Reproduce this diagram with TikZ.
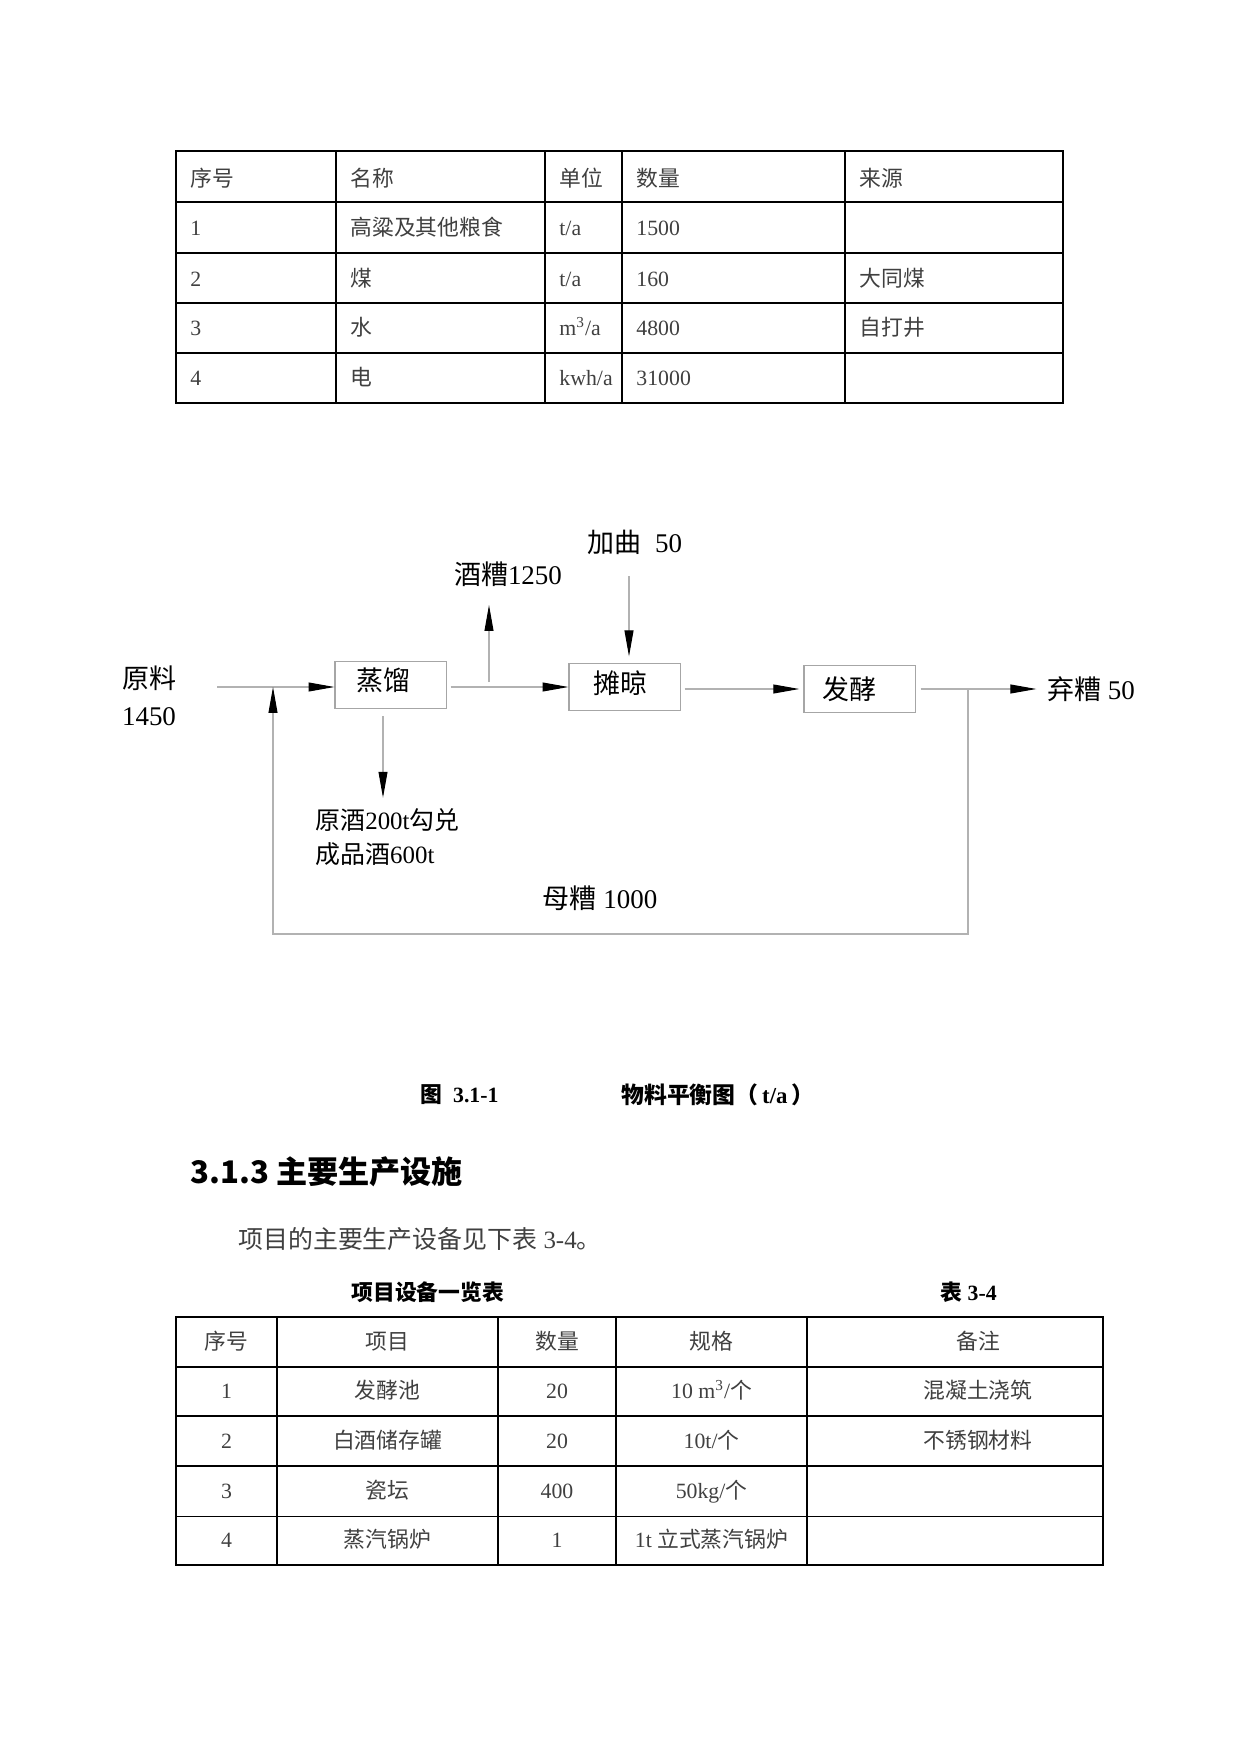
\documentclass[tikz,border=0pt]{standalone}
\usepackage{fontspec}
\setmainfont{Liberation Serif}
\newfontfamily\zhfont{Noto Sans CJK SC}
\newcommand{\zh}[1]{{\zhfont #1}}
\usepackage{tikz}
\usetikzlibrary{arrows.meta, positioning, calc}

\tikzset{
  proc/.style={draw=gray!70, line width=0.5pt, minimum width=53.5pt, minimum height=23pt, inner sep=0pt, font=\fontsize{13}{15}\selectfont},
  lbl/.style={font=\fontsize{13}{17.8}\selectfont, inner sep=1pt},
  flow/.style={draw=gray!60, line width=0.5pt, -{Triangle[length=12.5pt, width=4.3pt, color=black]}},
  cell/.style={font=\fontsize{10.5}{12}\selectfont, text=black!75, inner sep=0pt, text height=8pt, text depth=2pt},
  tabframe/.style={line width=1.2pt},
  tabline/.style={line width=0.5pt}
}

\begin{document}
\begin{tikzpicture}[x=0.4818pt, y=-0.4818pt]
\fill[white] (0,0) rectangle (1241,1754);
\useasboundingbox (0,0) rectangle (1241,1754);

% table of raw materials
\draw[tabline] (336,151) -- (336,403) (545,151) -- (545,403) (622,151) -- (622,403) (845,151) -- (845,403);
\draw[tabline] (176,202) -- (1063,202) (176,253) -- (1063,253) (176,353) -- (1063,353);
\draw[line width=0.9pt] (176,303) -- (1063,303);
\draw[tabframe] (176,151) rectangle (1063,403);

\node[cell, anchor=west] (a1) at (190,180) {\zh{序号}};
\node[cell, anchor=west] (a2) at (350,180) {\zh{名称}};
\node[cell, anchor=west] (a3) at (559,180) {\zh{单位}};
\node[cell, anchor=west] (a4) at (636,180) {\zh{数量}};
\node[cell, anchor=west] (a5) at (859,180) {\zh{来源}};
\node[cell, anchor=west] (b1) at (190,229.5) {1};
\node[cell, anchor=west] (b2) at (350,229.5) {\zh{高粱及其他粮食}};
\node[cell, anchor=west] (b3) at (559,229.5) {t/a};
\node[cell, anchor=west] (b4) at (636,229.5) {1500};
\node[cell, anchor=west] (c1) at (190,280) {2};
\node[cell, anchor=west] (c2) at (350,280) {\zh{煤}};
\node[cell, anchor=west] (c3) at (559,280) {t/a};
\node[cell, anchor=west] (c4) at (636,280) {160};
\node[cell, anchor=west] (c5) at (859,280) {\zh{大同煤}};
\node[cell, anchor=west] (d1) at (190,329.5) {3};
\node[cell, anchor=west] (d2) at (350,329.5) {\zh{水}};
\node[cell, anchor=west] (d3) at (559,329.5) {m\textsuperscript{3}/a};
\node[cell, anchor=west] (d4) at (636,329.5) {4800};
\node[cell, anchor=west] (d5) at (859,329.5) {\zh{自打井}};
\node[cell, anchor=west] (e1) at (190,379.5) {4};
\node[cell, anchor=west] (e2) at (350,379.5) {\zh{电}};
\node[cell, anchor=west] (e3) at (559,379.5) {kwh/a};
\node[cell, anchor=west] (e4) at (636,379.5) {31000};

% material balance
\node[lbl, align=center] (yl) at (149,696) {\zh{原料}\\1450};
\node[proc] (zl) at (390.5,685) {\raisebox{6pt}{\zh{蒸馏}}\kern7pt};
\node[proc] (tl) at (624.5,687) {\raisebox{5pt}{\zh{摊晾}}\kern3.5pt};
\node[proc] (fj) at (859.5,689) {\zh{发酵}\kern10pt};
\node[lbl] (jz) at (508,574) {\zh{酒糟}1250};
\node[lbl] (jq) at (635,542) {\zh{加曲}\ \ 50};
\node[lbl] (qz) at (1091,689) {\zh{弃糟} 50};
\node[lbl] (mz) at (600,898) {\zh{母糟} 1000};
\node[lbl, font=\fontsize{12}{16.4}\selectfont, align=left, anchor=north west] (yj) at (313,806) {\zh{原酒}200t\zh{勾兑}\\\zh{成品酒}600t};

\coordinate (in) at (217,687);
\coordinate (j1) at (489,682);
\coordinate (jt) at (489,605);
\coordinate (qs) at (629,576);
\coordinate (dn) at (383,716);
\coordinate (r1) at (968,689);
\coordinate (r2) at (273,934);

\draw[flow] (in) -- (in -| zl.west);
\draw[flow, shorten <=2pt] (zl.east |- tl.west) -- (tl.west);
\draw[flow] (j1) -- (jt);
\draw[flow, shorten >=3pt] (qs) -- (qs |- tl.north);
\draw[flow, shorten <=2pt, shorten >=2pt] (tl.east |- fj.west) -- (fj.west);
\draw[flow, shorten <=2.5pt, shorten >=4pt] (fj.east) -- (fj.east -| qz.west);
\draw[flow, shorten >=4pt] (dn) -- (dn |- yj.north);
\draw[flow] (r1) |- (r2) -- (r2 |- in);

% caption and text
\node[font=\bfseries\fontsize{10.5}{12}\selectfont, anchor=west, inner sep=0pt] (cap1) at (420,1095) {\zh{图}\ \ 3.1-1};
\node[font=\bfseries\fontsize{11}{12}\selectfont, anchor=west, inner sep=0pt] (cap2) at (621,1095) {\zh{物料平衡图（}\,t/a\,\zh{）}};
\node[font=\bfseries\fontsize{15}{17}\selectfont, anchor=west, inner sep=0pt] (sec) at (190,1172) {\zh{3.1.3 主要生产设施}};
\node[font=\fontsize{12}{14}\selectfont, text=black!75, anchor=west, inner sep=0pt] (para) at (238,1239) {\zh{项目的主要生产设备见下表} 3-4\zh{。}};
\node[font=\bfseries\fontsize{10.5}{12}\selectfont, anchor=west, inner sep=0pt] (tt) at (351,1292) {\zh{项目设备一览表}};
\node[font=\bfseries\fontsize{10.5}{12}\selectfont, anchor=west, inner sep=0pt] (tn) at (940,1292) {\zh{表} 3-4};

% table of equipment
\draw[tabline] (277,1317) -- (277,1565) (498,1317) -- (498,1565) (616,1317) -- (616,1565) (807,1317) -- (807,1565);
\draw[tabline] (176,1367) -- (1103,1367) (176,1416) -- (1103,1416) (176,1466) -- (1103,1466) (176,1516) -- (1103,1516);
\draw[tabframe] (176,1317) rectangle (1103,1565);

\node[cell] (f1) at (226.5,1343) {\zh{序号}};
\node[cell] (f2) at (387.5,1343) {\zh{项目}};
\node[cell] (f3) at (557,1343) {\zh{数量}};
\node[cell] (f4) at (711.5,1343) {\zh{规格}};
\node[cell] (f5) at (978,1343) {\zh{备注}};
\node[cell] (g1) at (226.5,1392.5) {1};
\node[cell] (g2) at (387.5,1392.5) {\zh{发酵池}};
\node[cell] (g3) at (557,1392.5) {20};
\node[cell] (g4) at (711.5,1392.5) {10 m\textsuperscript{3}/\zh{个}};
\node[cell] (g5) at (978,1392.5) {\zh{混凝土浇筑}};
\node[cell] (h1) at (226.5,1442) {2};
\node[cell] (h2) at (387.5,1442) {\zh{白酒储存罐}};
\node[cell] (h3) at (557,1442) {20};
\node[cell] (h4) at (711.5,1442) {10t/\zh{个}};
\node[cell] (h5) at (978,1442) {\zh{不锈钢材料}};
\node[cell] (k1) at (226.5,1492) {3};
\node[cell] (k2) at (387.5,1492) {\zh{瓷坛}};
\node[cell] (k3) at (557,1492) {400};
\node[cell] (k4) at (711.5,1492) {50kg/\zh{个}};
\node[cell] (m1) at (226.5,1541.5) {4};
\node[cell] (m2) at (387.5,1541.5) {\zh{蒸汽锅炉}};
\node[cell] (m3) at (557,1541.5) {1};
\node[cell] (m4) at (711.5,1541.5) {1t \zh{立式蒸汽锅炉}};
\end{tikzpicture}
\end{document}
